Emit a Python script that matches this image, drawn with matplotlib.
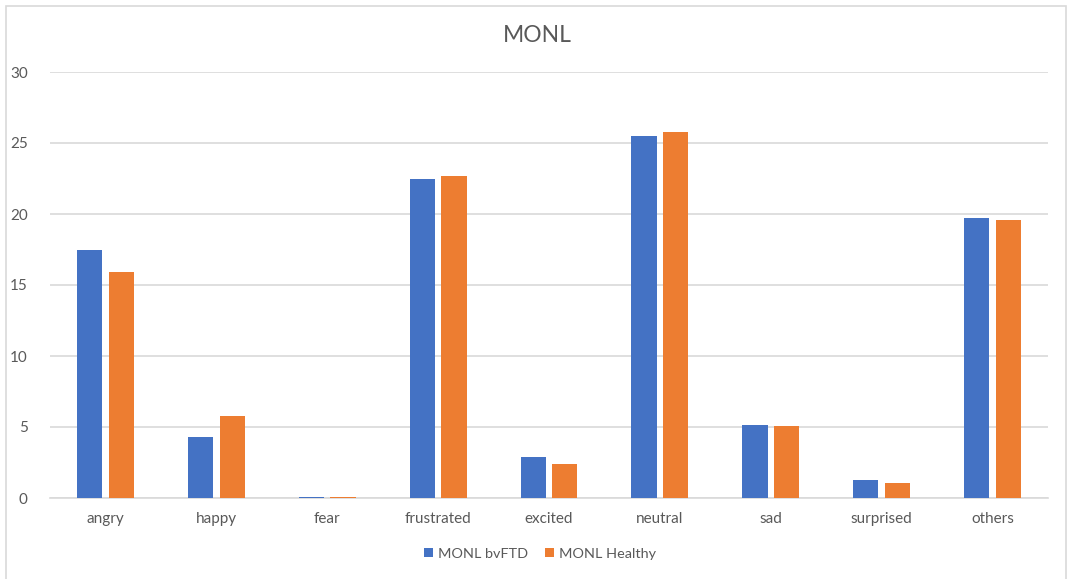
import matplotlib
matplotlib.use("Agg")
import matplotlib.pyplot as plt
from matplotlib.patches import Rectangle
import numpy as np

categories = ["angry", "happy", "fear", "frustrated", "excited",
              "neutral", "sad", "surprised", "others"]
bvftd = [17.5, 4.3, 0.05, 22.45, 2.9, 25.5, 5.15, 1.3, 19.75]
healthy = [15.95, 5.77, 0.05, 22.7, 2.38, 25.75, 5.05, 1.08, 19.6]
series_names = ["MONL bvFTD", "MONL Healthy"]
yticks = [0, 5, 10, 15, 20, 25, 30]
title = "MONL"

BLUE = "#4472C4"
ORANGE = "#ED7D31"
TEXT = "#595959"
GRID = "#D9D9D9"

plt.rcParams["font.family"] = ["Lato", "DejaVu Sans"]

fig = plt.figure(figsize=(10.68, 5.79), dpi=100)
W, H = 1068, 579

# chart frame
fig.patches.append(Rectangle((6 / W, -0.05), (1066 - 6) / W, 1.05 - 6 / H,
                             transform=fig.transFigure, fill=False,
                             edgecolor=GRID, linewidth=1.2))

ax = fig.add_axes([50 / W, 1 - 498 / H, (1048 - 50) / W, (498 - 72) / H])

x = np.arange(len(categories))
bw = 0.227
off = 0.143
ax.bar(x - off, bvftd, width=bw, color=BLUE, label=series_names[0], zorder=3)
ax.bar(x + off, healthy, width=bw, color=ORANGE, label=series_names[1], zorder=3)

ax.set_xlim(-0.5, len(categories) - 0.5)
ax.set_ylim(0, 30)
ax.set_yticks(yticks)
ax.set_xticks(x)
ax.set_xticklabels(categories)
ax.yaxis.grid(True, color=GRID, linewidth=1.2, zorder=0)
ax.set_axisbelow(True)
for s in ["top", "right", "left"]:
    ax.spines[s].set_visible(False)
ax.spines["bottom"].set_color(GRID)
ax.spines["bottom"].set_linewidth(1.2)
ax.tick_params(axis="both", length=0, labelsize=11, labelcolor=TEXT)
ax.tick_params(axis="y", pad=16)
ax.tick_params(axis="x", pad=10)

fig.text(537 / W, 1 - 36 / H, title, ha="center", va="center",
         fontsize=16.5, color=TEXT)

leg = ax.legend(loc="center", bbox_to_anchor=(540 / W, 1 - 554 / H),
                bbox_transform=fig.transFigure, ncol=2, frameon=False,
                fontsize=10.4, handlelength=0.6, handleheight=0.6,
                handletextpad=0.35, columnspacing=1.2)
for t in leg.get_texts():
    t.set_color(TEXT)

fig.savefig("out.png", dpi=100, facecolor="white")
